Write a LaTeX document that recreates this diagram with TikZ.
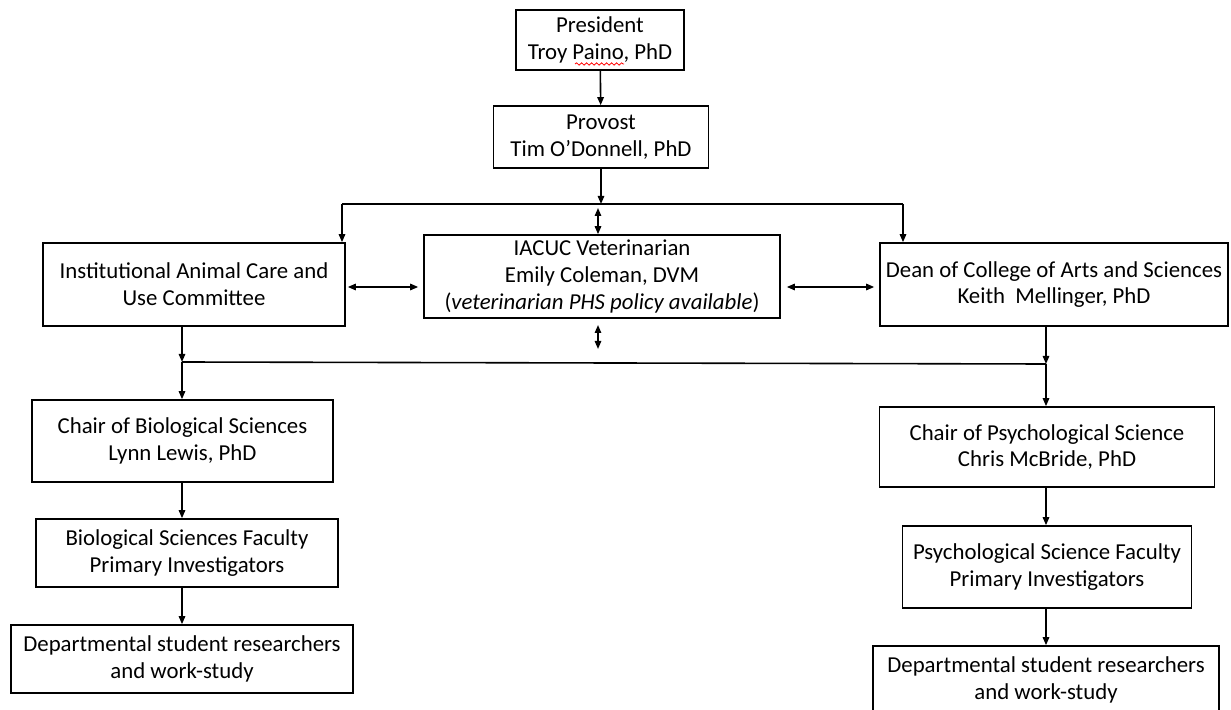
\documentclass[tikz,border=0pt]{standalone}
\usepackage{fontspec}
\setmainfont{Carlito}
\usetikzlibrary{arrows.meta,decorations.pathmorphing}

\tikzset{
  box/.style={draw, line width=0.8pt, align=center, inner sep=0pt,
    font=\fontsize{11.4}{13.4}\selectfont},
  arr/.style={line width=0.8pt, -{Triangle[length=4pt,width=3.2pt]}},
  dbl/.style={line width=0.8pt,
    {Triangle[length=4pt,width=3.2pt]}-{Triangle[length=4pt,width=3.2pt]}},
}

\begin{document}
\begin{tikzpicture}[x=0.5pt, y=-0.5pt]
	\useasboundingbox (0,0) rectangle (1231,710);

	% top of the chart
	\node[box, minimum width=84pt, minimum height=30pt] (pres) at (600,40) {President\\Troy Paino, PhD};
	\node[box, minimum width=107.5pt, minimum height=31pt] (prov) at (601,137) {Provost\\Tim O’Donnell, PhD};
	\draw[red, line width=0.4pt, decorate, decoration={snake, amplitude=0.6pt, segment length=2.5pt}] (575,64) -- (624,64);

	% middle row
	\node[box, minimum width=151pt, minimum height=41.5pt] (comm) at (194,284.5) {Institutional Animal Care and\\Use Committee};
	\node[box, minimum width=178pt, minimum height=41.5pt] (vet) at (602,276.5) {IACUC Veterinarian\\Emily Coleman, DVM\\(\textit{veterinarian PHS policy available})};
	\node[box, minimum width=174pt, minimum height=41.5pt] (dean) at (1054,284.5) {Dean of College of Arts and Sciences\\Keith\ \ Mellinger, PhD};

	% left column
	\node[box, minimum width=150.5pt, minimum height=41pt] (chbio) at (182.5,441) {Chair of Biological Sciences\\Lynn Lewis, PhD};
	\node[box, minimum width=151pt, minimum height=34pt] (biofac) at (187,553) {Biological Sciences Faculty\\Primary Investigators};
	\node[box, minimum width=171pt, minimum height=34pt] (stubio) at (182,659) {Departmental student researchers\\and work-study};

	% right column
	\node[box, minimum width=167.5pt, minimum height=40pt] (chpsy) at (1047,447) {Chair of Psychological Science\\Chris McBride, PhD};
	\node[box, minimum width=144.5pt, minimum height=41pt] (psyfac) at (1047,567) {Psychological Science Faculty\\Primary Investigators};
	\node[box, minimum width=173pt, minimum height=34pt] (stupsy) at (1046,680) {Departmental student researchers\\and work-study};

	\coordinate (topL) at (342,204);
	\coordinate (topM) at (601,204);
	\coordinate (topR) at (903,204);
	\coordinate (botL) at (182,362);
	\coordinate (botR) at (1046,364);
	\coordinate (vtop) at (598,208);
	\coordinate (vlo1) at (598,325);
	\coordinate (vlo2) at (598,349);
	\coordinate (side) at (0,287);

	\draw[arr] (pres) -- (prov);
	\draw[arr] (prov) -- (topM);
	\draw[line width=0.8pt] (topL) -- (topR);
	\draw[arr] (topL) -- (topL |- comm.north);
	\draw[arr] (topR) -- (topR |- dean.north);

	\draw[dbl] (vtop) -- (vtop |- vet.north);
	\draw[dbl] (vlo1) -- (vlo2);
	\draw[dbl, shorten <=1pt, shorten >=2.5pt] (comm.east |- side) -- (vet.west |- side);
	\draw[dbl, shorten <=3pt, shorten >=2.5pt] (vet.east |- side) -- (dean.west |- side);

	\draw[arr] (comm.south -| botL) -- (botL);
	\draw[arr] (dean.south -| botR) -- (botR);
	\draw[line width=0.8pt] (botL) -- (botR);
	\draw[arr] (botL) -- (botL |- chbio.north);
	\draw[arr] (botR) -- (botR |- chpsy.north);

	\foreach \a/\b in {chbio/biofac, biofac/stubio}{
	  \draw[arr] (\a.south -| botL) -- (\b.north -| botL);
	}
	\foreach \a/\b in {chpsy/psyfac, psyfac/stupsy}{
	  \draw[arr] (\a.south -| botR) -- (\b.north -| botR);
	}
\end{tikzpicture}
\end{document}
